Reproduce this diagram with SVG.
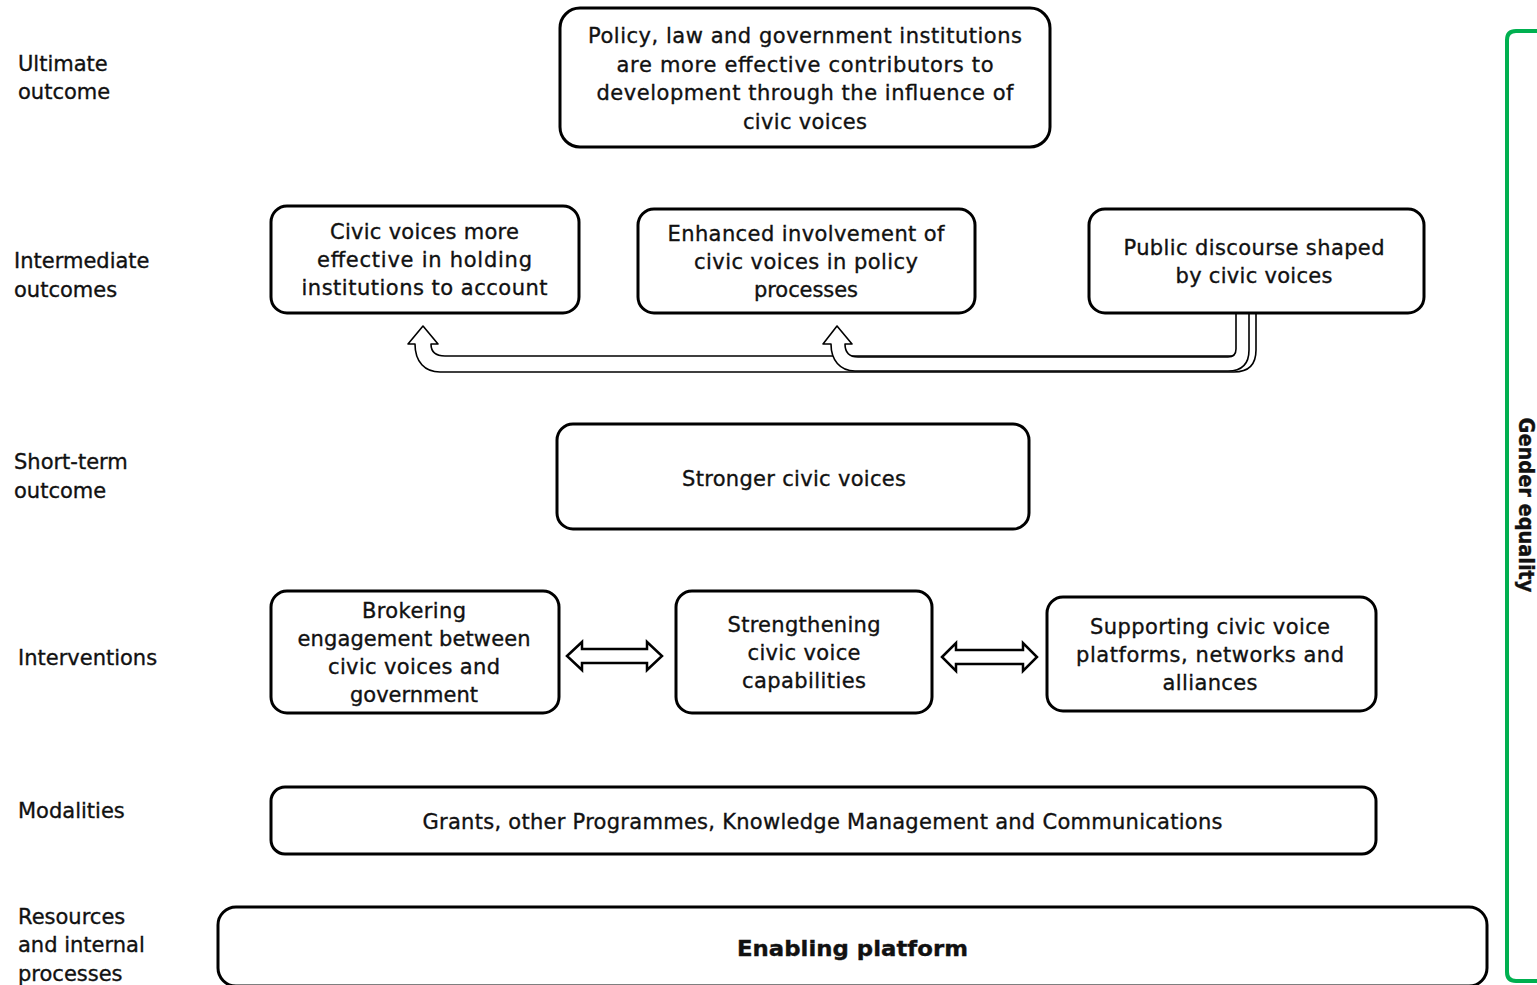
<svg xmlns="http://www.w3.org/2000/svg" width="1537" height="985" viewBox="0 0 1537 985">
<defs>
<style>
.box{fill:#fff;stroke:#000;stroke-width:3}
.t{font-family:"DejaVu Sans",Verdana,sans-serif;font-size:21px;fill:#111;stroke:#111;stroke-width:0.35;text-anchor:middle}
.lbl{font-family:"DejaVu Sans",Verdana,sans-serif;font-size:21px;fill:#111;stroke:#111;stroke-width:0.35}
.arr{fill:#fff;stroke:#000;stroke-width:1.6;stroke-linejoin:round}
.darr{fill:#fff;stroke:#000;stroke-width:2.5;stroke-linejoin:miter}
</style>
</defs>
<rect width="1537" height="985" fill="#fff"/>

<g id="labels">
<text class="lbl" x="18" y="71">Ultimate</text>
<text class="lbl" x="18" y="99">outcome</text>
<text class="lbl" x="14" y="268">Intermediate</text>
<text class="lbl" x="14" y="297">outcomes</text>
<text class="lbl" x="14" y="469">Short-term</text>
<text class="lbl" x="14" y="498">outcome</text>
<text class="lbl" x="18" y="665">Interventions</text>
<text class="lbl" x="18" y="818">Modalities</text>
<text class="lbl" x="18" y="924">Resources</text>
<text class="lbl" x="18" y="952">and internal</text>
<text class="lbl" x="18" y="981">processes</text>
</g>

<g id="connectors">
<path class="arr" d="M423,326 L438,344 L431,344 Q431,356 445,356 L1232,356 Q1240,356 1240,348 L1240,313 L1256,313 L1256,350 Q1256,372 1234,372 L440,372 C425,372 415,362 415,344 L408,344 Z"/>
<path class="arr" d="M837,326 L852,344 L845,344 Q845,357 858,357 L1228,357 Q1236,357 1236,349 L1236,313 L1249,313 L1249,350 Q1249,371 1228,371 L855,371 C840,371 831,360 831,344 L823,344 Z"/>
<path class="darr" d="M567,656 L582,642 L582,649 L647,649 L647,642 L662,656 L647,670 L647,663 L582,663 L582,670 Z"/>
<path class="darr" d="M942,657 L956,643 L956,650 L1023,650 L1023,643 L1037,657 L1023,671 L1023,664 L956,664 L956,671 Z"/>
</g>

<g id="ultimate">
<rect class="box" x="560" y="8" width="490" height="139" rx="20"/>
<text class="t" x="805" y="43" textLength="434">Policy, law and government  institutions</text>
<text class="t" x="805" y="71.5" textLength="377">are more  effective  contributors to</text>
<text class="t" x="805" y="100" textLength="417">development  through the influence of</text>
<text class="t" x="805" y="128.5" textLength="124">civic voices</text>
</g>

<g id="intermediate1">
<rect class="box" x="271" y="206" width="308" height="107" rx="16"/>
<text class="t" x="424.5" y="239" textLength="189">Civic voices more</text>
<text class="t" x="424.5" y="267" textLength="215">effective  in holding</text>
<text class="t" x="424.5" y="295" textLength="246">institutions to account</text>
</g>

<g id="intermediate2">
<rect class="box" x="638" y="209" width="337" height="104" rx="16"/>
<text class="t" x="806" y="241" textLength="277">Enhanced involvement  of</text>
<text class="t" x="806" y="269" textLength="224">civic voices in policy</text>
<text class="t" x="806" y="297" textLength="104">processes</text>
</g>

<g id="intermediate3">
<rect class="box" x="1089" y="209" width="335" height="104" rx="16"/>
<text class="t" x="1254" y="255" textLength="261">Public discourse shaped</text>
<text class="t" x="1254" y="283" textLength="157">by civic voices</text>
</g>

<g id="shortterm">
<rect class="box" x="557" y="424" width="472" height="105" rx="16"/>
<text class="t" x="794" y="486" textLength="224">Stronger civic voices</text>
</g>

<g id="brokering">
<rect class="box" x="271" y="591" width="288" height="122" rx="16"/>
<text class="t" x="414" y="618" textLength="104">Brokering</text>
<text class="t" x="414" y="646" textLength="233">engagement  between</text>
<text class="t" x="414" y="674" textLength="172">civic voices and</text>
<text class="t" x="414" y="702" textLength="128">government</text>
</g>

<g id="strengthening">
<rect class="box" x="676" y="591" width="256" height="122" rx="16"/>
<text class="t" x="804" y="632" textLength="153">Strengthening</text>
<text class="t" x="804" y="660" textLength="113">civic voice</text>
<text class="t" x="804" y="688" textLength="124">capabilities</text>
</g>

<g id="supporting">
<rect class="box" x="1047" y="597" width="329" height="114" rx="16"/>
<text class="t" x="1210" y="634" textLength="240">Supporting civic voice</text>
<text class="t" x="1210" y="662" textLength="268">platforms, networks  and</text>
<text class="t" x="1210" y="690" textLength="95">alliances</text>
</g>

<g id="modalities">
<rect class="box" x="271" y="787" width="1105" height="67" rx="14"/>
<text class="t" x="822.5" y="829" textLength="800">Grants, other  Programmes,  Knowledge  Management  and Communications</text>
</g>

<g id="enabling">
<rect class="box" x="218" y="907" width="1269" height="79" rx="18"/>
<text class="t" x="852.5" y="956" font-size="24" font-weight="bold" stroke-width="0" textLength="231" lengthAdjust="spacingAndGlyphs">Enabling platform</text>
</g>

<g id="gender">
<path d="M1537,31 L1516,31 Q1507,31 1507,40 L1507,972 Q1507,981 1516,981 L1537,981" fill="none" stroke="#00B050" stroke-width="4"/>
<text class="t" transform="translate(1519,505) rotate(90)" x="0" y="0" font-size="18" font-weight="bold" stroke-width="0" textLength="175" lengthAdjust="spacingAndGlyphs">Gender equality</text>
</g>
</svg>
